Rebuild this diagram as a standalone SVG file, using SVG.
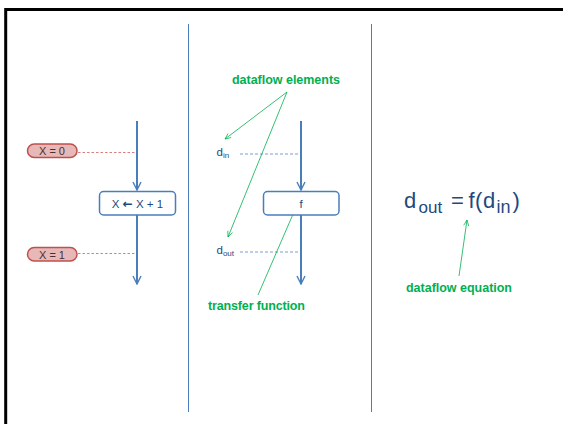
<svg xmlns="http://www.w3.org/2000/svg" width="563" height="424" viewBox="0 0 563 424">
<defs>
<style>
.blue{stroke:#4A7EBB;stroke-width:2;fill:none}
.green{stroke:#00B050;stroke-width:0.8;fill:none}
.sep{stroke:#4A7EBB;stroke-width:1;fill:none}
.rdash{stroke:#D9807E;stroke-width:1;stroke-dasharray:2.5,2;fill:none}
.bdash{stroke:#7E9ECF;stroke-width:1;stroke-dasharray:3,2;fill:none}
.pill{fill:#E6B9B8;stroke:#C0504D;stroke-width:1.5}
.box{fill:#fff;stroke:#4A7EBB;stroke-width:1.5}
.t{font-family:"Liberation Sans",Arial,sans-serif;fill:#1F497D}
.g{font-family:"Liberation Sans",Arial,sans-serif;font-weight:bold;fill:#00B050;font-size:12.5px}
.pt{font-family:"Liberation Sans",Arial,sans-serif;fill:#4A3030;font-size:11px}
</style>
<marker id="ab" viewBox="0 0 10 10" refX="9" refY="5" markerWidth="5" markerHeight="5" orient="auto" markerUnits="strokeWidth">
<path d="M1,1 L9,5 L1,9" fill="none" stroke="#4A7EBB" stroke-width="1.4"/>
</marker>
<marker id="ag" viewBox="0 0 10 10" refX="9" refY="5" markerWidth="9" markerHeight="9" orient="auto" markerUnits="strokeWidth">
<path d="M1,1.5 L9,5 L1,8.5" fill="none" stroke="#00B050" stroke-width="1"/>
</marker>
</defs>
<rect x="5.7" y="9.5" width="620" height="500" fill="none" stroke="#000" stroke-width="3"/>
<g id="separators">
<line class="sep" x1="188.5" y1="24" x2="188.5" y2="412"/>
<line class="sep" x1="371.5" y1="24" x2="371.5" y2="412"/>
</g>
<g id="connectors">
<line class="blue" x1="137" y1="121" x2="137" y2="190" marker-end="url(#ab)"/>
<line class="blue" x1="137" y1="215" x2="137" y2="284" marker-end="url(#ab)"/>
<line class="blue" x1="301" y1="121" x2="301" y2="190" marker-end="url(#ab)"/>
<line class="blue" x1="301" y1="215" x2="301" y2="284" marker-end="url(#ab)"/>
<line class="rdash" x1="78" y1="152.5" x2="135" y2="152.5"/>
<line class="rdash" x1="78" y1="253.5" x2="135" y2="253.5"/>
<line class="bdash" x1="240" y1="154" x2="299" y2="154"/>
<line class="bdash" x1="240" y1="252" x2="299" y2="252"/>
<line class="green" x1="287" y1="92" x2="225" y2="139" marker-end="url(#ag)"/>
<line class="green" x1="287" y1="92" x2="228" y2="237" marker-end="url(#ag)"/>
<line class="green" x1="258" y1="295" x2="297" y2="205" marker-end="url(#ag)"/>
<line class="green" x1="459" y1="276" x2="467" y2="220" marker-end="url(#ag)"/>
</g>
<g id="x0">
<rect class="pill" x="27.5" y="144" width="49.5" height="13.5" rx="6.75"/>
<text class="pt" x="52" y="155" text-anchor="middle">X = 0</text>
</g>
<g id="x1">
<rect class="pill" x="27.5" y="247.5" width="49.5" height="13.5" rx="6.75"/>
<text class="pt" x="52" y="258.5" text-anchor="middle">X = 1</text>
</g>
<g id="assign">
<rect class="box" x="99.5" y="191.5" width="76" height="23.5" rx="4"/>
<text class="t" x="137.5" y="207.5" font-size="11.5" text-anchor="middle">X <tspan font-family="'DejaVu Sans',sans-serif" font-weight="bold" font-size="12">←</tspan> X + 1</text>
</g>
<g id="fbox">
<rect class="box" x="263.5" y="191.5" width="75.5" height="23.5" rx="4"/>
<text class="t" x="301" y="207.5" font-size="11.5" text-anchor="middle">f</text>
</g>
<g id="din">
<text class="t" x="216.5" y="155.5" font-size="11.5">d<tspan font-size="8" dy="2.5">in</tspan></text>
</g>
<g id="dout">
<text class="t" x="216.5" y="253.5" font-size="11.5">d<tspan font-size="8" dy="2.5">out</tspan></text>
</g>
<g id="elements-label">
<text class="g" x="232" y="84" textLength="108" lengthAdjust="spacing">dataflow elements</text>
</g>
<g id="transfer-label">
<text class="g" x="208" y="310" textLength="97" lengthAdjust="spacing">transfer function</text>
</g>
<g id="equation-label">
<text class="g" x="406" y="292" textLength="106" lengthAdjust="spacing">dataflow equation</text>
</g>
<g id="equation">
<text class="t" font-size="22" y="208"><tspan x="404">d</tspan><tspan x="418.5" y="212.5" font-size="17">out</tspan><tspan x="451" y="208">=</tspan><tspan x="468.5">f</tspan><tspan x="475">(</tspan><tspan x="483">d</tspan><tspan x="496.5" y="212.5" font-size="18">in</tspan><tspan x="512.5" y="208">)</tspan></text>
</g>
</svg>
